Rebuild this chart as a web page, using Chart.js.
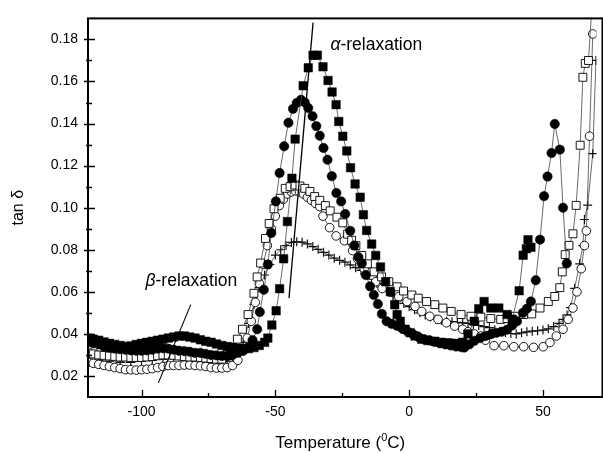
<!DOCTYPE html>
<html>
<head>
<meta charset="utf-8">
<script src="https://cdn.jsdelivr.net/npm/chart.js@4.4.0/dist/chart.umd.min.js"></script>
<style>
html,body{margin:0;padding:0;background:#fff;}
</style>
</head>
<body>
<canvas id="tanChart" width="603" height="453"></canvas>
<script>
// filled squares
var sqFilledT = [-120,-118,-116,-114,-112,-110,-108,-106,-104,-102,-100,-98,-96,-94,-92,-90,-88,-86,-84,-82,-80,-78,-76,-74,-72,-70,-68,-66,-64,-62,-60,-58,-56,-54,
  -52.8,-51.3,-49.7,-48.4,-46.9,-45.5,-43.8,-42.6,-39.6,-37.7,-35.9,-34.3,-32.2,-30.3,-28.8,-27.3,-26.3,-24.8,-23.3,-21.9,-20.2,-18.3,-17.1,-15.9,-14,-12.5,-10.7,-8.8,
  -7,-5.4,-4.5,-3.3,-1.5,0.4,2.2,4.7,7,9.6,12,14.5,17.6,20,22,24.3,26,28,30.5,33.5,36.6,38.5,41.1,42.6,43.8,44.4,45.5];
var sqFilledV = [0.038,0.0375,0.037,0.0362,0.0355,0.035,0.0345,0.034,0.0343,0.035,0.0355,0.036,0.0365,0.037,0.0375,0.038,0.0385,0.039,0.039,0.0385,
  0.038,0.0372,0.0365,0.036,0.0352,0.0345,0.034,0.0335,0.0332,0.033,0.033,0.0335,0.0345,0.036,
  0.038,0.0442,0.051,0.0615,0.0757,0.0934,0.114,0.1326,0.158,0.1665,0.1725,0.1725,0.167,0.1605,0.155,0.149,0.141,0.134,0.127,0.119,0.1113,0.105,0.0967,0.0892,0.0827,0.0773,0.0718,0.0648,
  0.060,0.0539,0.0492,0.046,0.0422,0.0406,0.039,0.0375,0.0368,0.0365,0.036,0.0358,0.0355,0.036,0.040,0.046,0.052,0.0554,0.0523,0.0523,0.0492,0.047,0.0605,0.0774,0.0805,0.0848,0.0812];

// filled circles
var ciFilledT = [-120,-118,-116,-114,-112,-110,-108,-106,-104,-102,-100,-98,-96,-94,-92,-90,-88,-86,-84,-82,-80,-78,-76,-74,-72,-70,-68,-66,-64,-62,-60,
  -58.5,-56.8,-55.8,-54.3,-52.8,-51.5,-49.8,-48.4,-46.7,-45.1,-43.4,-42,-40.4,-39,-37.7,-36.1,-34.7,-33.4,-32,-30.5,
  -28.9,-27.2,-25.4,-23.9,-22,-20.5,-19,-17.7,-16.2,-14.6,-13.2,-11.7,-10.2,-8.4,-6.5,-4.5,-2.5,-0.5,1.5,3.5,
  5.5,7.5,9.5,11.5,13.5,15.5,17.5,19.5,20.6,22.5,24.3,26.5,28.5,30.5,32.5,34.5,36.6,38.5,40.3,42.5,
  44,45.5,47.3,48.9,50.4,51.7,53.2,54.4,56.3,57.5,58.9];
var ciFilledV = [0.036,0.0355,0.035,0.034,0.0335,0.033,0.0328,0.0325,0.0322,0.032,0.032,0.0322,0.0325,0.033,0.0332,0.033,0.0325,0.032,0.0318,0.0315,
  0.031,0.031,0.0305,0.030,0.0298,0.0295,0.0295,0.030,0.031,0.032,0.0335,
  0.037,0.0422,0.0504,0.061,0.073,0.088,0.103,0.1165,0.1292,0.1404,0.147,0.1498,0.1513,0.150,0.1474,0.1435,0.1388,0.1342,0.1284,0.1228,
  0.115,0.107,0.103,0.097,0.089,0.082,0.0765,0.0735,0.068,0.0626,0.0585,0.0542,0.0495,0.046,0.0448,0.0438,0.0425,0.041,0.0398,0.0385,
  0.0375,0.037,0.0362,0.0355,0.035,0.0345,0.034,0.0337,0.0335,0.035,0.0367,0.038,0.039,0.0398,0.0405,0.041,0.042,0.044,0.046,0.050,
  0.052,0.0554,0.0655,0.0848,0.1055,0.1148,0.126,0.1398,0.1276,0.100,0.0735];

// open squares
var sqOpenT = [-120,-118,-116,-114,-112,-110,-108,-106,-104,-102,-100,-98,-96,-94,-92,-90,-88,-86,-84,-82,-80,-78,-76,-74,-72,-70,-68,
  -66.6,-64.2,-62.3,-60.2,-58,-56.8,-55.5,-53.7,-52.3,-50.5,-48.2,-46.3,-44.5,-42.7,-40.8,-39,-37.1,-35.3,-33.4,-31.3,
  -29.5,-27,-24.8,-23,-21.5,-19.9,-17.7,-15.6,-13.1,-10.3,-7.6,-4.5,-2.1,1,3.4,6.5,9.6,12.6,15.7,19.4,
  23.1,26.8,30.5,34.2,36.6,39.7,42.8,45.8,48.9,52,54.4,56.3,57.2,58.3,59.7,61.2,62.4,63.9,64.9,65.8,67,68.5];
var sqOpenV = [0.031,0.0305,0.030,0.0298,0.0295,0.0293,0.029,0.029,0.0288,0.0288,0.0288,0.029,0.0292,0.0296,0.030,0.030,0.0298,0.0295,0.0292,0.029,
  0.029,0.0288,0.0285,0.0283,0.028,0.028,0.030,
  0.0336,0.0375,0.0422,0.0492,0.0593,0.0671,0.0737,0.0854,0.0925,0.0995,0.1045,0.1092,0.110,0.1108,0.1103,0.1092,0.1077,0.1053,0.1035,0.101,
  0.0985,0.0955,0.0928,0.0874,0.0845,0.082,0.0773,0.0733,0.0695,0.0671,0.0648,0.0624,0.0604,0.0585,0.057,0.0554,0.0539,0.0523,0.0507,0.0492,
  0.0484,0.048,0.0473,0.0469,0.0473,0.0484,0.0492,0.0495,0.0523,0.0554,0.0578,0.062,0.0695,0.0777,0.0821,0.0876,0.1011,0.1297,0.162,0.1686,0.170,0.2];

// open circles
var ciOpenT = [-120,-118,-116,-114,-112,-110,-108,-106,-104,-102,-100,-98,-96,-94,-92,-90,-88,-86,-84,-82,-80,-78,-76,-74,-72,-70,-68,-66,
  -64,-62,-60.5,-59,-57.5,-56,-54.5,-53,-51.5,-50,-48.5,-47,-45.5,-44,-42.5,-41,-39.5,-38,-36.5,-35,
  -33.4,-32.2,-29.7,-27.3,-24.2,-21.1,-19.3,-16.8,-13.8,-12.5,-10.1,-7,-3.9,-0.8,2.2,4.7,7.7,10.8,13.9,17,
  20,22,24.3,26.8,28.5,31.7,35.4,39.1,42.8,46.5,50.1,52.6,55,57.5,59.4,61.2,62.7,64.3,65.5,66.2,67.4,68.6];
var ciOpenV = [0.0265,0.026,0.0255,0.025,0.0245,0.024,0.0235,0.023,0.023,0.0228,0.023,0.0232,0.0235,0.024,0.0245,0.025,0.025,0.025,0.0252,0.0252,
  0.025,0.0248,0.0245,0.024,0.0238,0.0238,0.024,0.025,
  0.0275,0.032,0.038,0.046,0.055,0.064,0.073,0.082,0.090,0.096,0.101,0.104,0.1065,0.1075,0.108,0.1075,0.1065,0.105,0.1035,0.102,
  0.1005,0.096,0.0905,0.0866,0.0843,0.0796,0.0757,0.071,0.0679,0.0648,0.0616,0.060,0.0577,0.0554,0.0531,0.0507,0.0484,0.0469,0.0453,0.0437,
  0.0422,0.041,0.040,0.039,0.037,0.0344,0.0344,0.0339,0.0339,0.0336,0.0339,0.0359,0.039,0.0422,0.0469,0.0523,0.060,0.071,0.082,0.089,0.134,0.1826];

// crosses
var crossT = [-120,-116,-112,-108,-104,-100,-96,-92,-88,-84,-80,-76,-72,-68,-66,
  -64,-62,-60,-58,-56,-54,-52,-50,-48,-46,-44,-42,-40,-38,-36,-34,-32,-30,-28,-26,-24,-22,-20,-18,-16,-14,-12,-10,-8,-6,
  -4,-2,0,2,4,6,8,10,12,14,16,18,20,22,24,26,28,30,32,34,36,38,40,42,44,46,48,50,52,54,
  56,57.5,59,60.3,61.8,63.7,64.9,65.5,66.7,68.6,69.8];
var crossV = [0.028,0.0275,0.027,0.0265,0.0265,0.027,0.0275,0.028,0.0285,0.028,0.0275,0.027,0.0265,0.027,0.028,
  0.030,0.036,0.045,0.054,0.062,0.068,0.073,0.0775,0.080,0.082,0.0835,0.0838,0.0836,0.0828,0.0815,0.0802,0.0788,0.0775,0.076,0.075,
  0.0741,0.0728,0.0715,0.0702,0.068,0.066,0.064,0.062,0.0605,0.058,0.056,0.0545,0.053,0.0515,0.050,0.049,0.048,0.047,0.0465,0.046,
  0.0458,0.0455,0.0452,0.045,0.0445,0.044,0.0435,0.043,0.042,0.0412,0.0406,0.0402,0.040,0.0405,0.041,0.0413,0.0415,0.0418,0.0424,0.0435,
  0.045,0.0469,0.049,0.0525,0.0616,0.0733,0.082,0.0944,0.1012,0.1257,0.17];

// guide lines for the relaxations
var alphaLineT = [-44.9, -35.9];
var alphaLineV = [0.057, 0.188];
var betaLineT = [-93.7, -81.6];
var betaLineV = [0.0167, 0.0539];

// ticks
var xTicks = [-100, -50, 0, 50];
var xMinor = [-75, -25, 25];
var yTicks = [0.02, 0.04, 0.06, 0.08, 0.10, 0.12, 0.14, 0.16, 0.18];
var yMinor = [0.03, 0.05, 0.07, 0.09, 0.11, 0.13, 0.15, 0.17];

var FONT = '"Liberation Sans", Arial, Helvetica, sans-serif';
Chart.defaults.font.family = FONT;
Chart.defaults.color = '#000';

function pts(ts, vs) {
    return ts.map(function (t, i) { return {x: t, y: vs[i]}; });
}

function series(ts, vs, style, r, fill, edge, bw) {
    return {
        data: pts(ts, vs),
        showLine: true,
        borderColor: '#444',
        borderWidth: 0.8,
        pointStyle: style,
        pointRadius: r,
        pointBackgroundColor: fill,
        pointBorderColor: edge,
        pointBorderWidth: bw,
        clip: 0
    };
}

var decor = {
    id: 'decor',
    afterDraw: function (chart) {
        var c = chart.ctx, a = chart.chartArea, xs = chart.scales.x, ys = chart.scales.y;
        c.save();
        c.strokeStyle = '#000';
        c.lineWidth = 2;
        c.strokeRect(a.left, a.top, a.right - a.left + 6, a.bottom - a.top);

        c.lineWidth = 1.3;
        c.beginPath();
        xTicks.forEach(function (v) {
            var p = Math.round(xs.getPixelForValue(v)) + 0.5;
            c.moveTo(p, a.bottom); c.lineTo(p, a.bottom - 7);
        });
        xMinor.forEach(function (v) {
            var p = Math.round(xs.getPixelForValue(v)) + 0.5;
            c.moveTo(p, a.bottom); c.lineTo(p, a.bottom - 4);
        });
        yTicks.forEach(function (v) {
            var p = Math.round(ys.getPixelForValue(v)) + 0.5;
            c.moveTo(a.left - 4, p); c.lineTo(a.left + 7, p);
        });
        yMinor.forEach(function (v) {
            var p = Math.round(ys.getPixelForValue(v)) + 0.5;
            c.moveTo(a.left - 2, p); c.lineTo(a.left + 4, p);
        });
        c.stroke();

        // relaxation labels
        c.fillStyle = '#000';
        c.textBaseline = 'alphabetic';
        c.textAlign = 'left';
        var ax = xs.getPixelForValue(-29.4), ay = ys.getPixelForValue(0.1752);
        c.font = 'italic 17.5px ' + FONT;
        c.fillText('\u03B1', ax, ay);
        var aw = c.measureText('\u03B1').width;
        c.font = '17.5px ' + FONT;
        c.fillText('-relaxation', ax + aw, ay);

        var bx = xs.getPixelForValue(-98.5), by = ys.getPixelForValue(0.0629);
        c.font = 'italic 17.5px ' + FONT;
        c.fillText('\u03B2', bx, by);
        var bw = c.measureText('\u03B2').width;
        c.font = '17.5px ' + FONT;
        c.fillText('-relaxation', bx + bw, by);

        // x axis title with superscript degree
        var t1 = 'Temperature (', t2 = '0', t3 = 'C)';
        c.font = '17px ' + FONT;
        var w1 = c.measureText(t1).width, w3 = c.measureText(t3).width;
        c.font = '11px ' + FONT;
        var w2 = c.measureText(t2).width;
        var x0 = (a.left + a.right) / 2 - 2 - (w1 + w2 + w3) / 2, yb = 448;
        c.font = '17px ' + FONT;
        c.fillText(t1, x0, yb);
        c.font = '11px ' + FONT;
        c.fillText(t2, x0 + w1, yb - 7);
        c.font = '17px ' + FONT;
        c.fillText(t3, x0 + w1 + w2, yb);
        c.restore();
    }
};

var ctx = document.getElementById('tanChart').getContext('2d');
var tanChart = new Chart(ctx, {
    type: 'scatter',
    data: {
        datasets: [
            {data: pts(alphaLineT, alphaLineV), showLine: true, pointRadius: 0, borderColor: '#000', borderWidth: 1.3, clip: 0},
            {data: pts(betaLineT, betaLineV), showLine: true, pointRadius: 0, borderColor: '#000', borderWidth: 1.1, clip: 0},
            series(sqFilledT, sqFilledV, 'rect', 6, '#000', '#000', 0.5),
            series(ciFilledT, ciFilledV, 'circle', 4.7, '#000', '#000', 0.5),
            series(sqOpenT, sqOpenV, 'rect', 5.6, '#fff', '#000', 0.9),
            series(ciOpenT, ciOpenV, 'circle', 4.3, '#fff', '#000', 0.9),
            series(crossT, crossV, 'cross', 4.5, '#111', '#111', 1.2)
        ]
    },
    options: {
        responsive: false,
        animation: false,
        layout: {padding: {left: 0, right: 0, top: 13, bottom: 0}},
        plugins: {legend: {display: false}, tooltip: {enabled: false}},
        scales: {
            x: {
                type: 'linear',
                min: -120,
                max: 70,
                afterBuildTicks: function (s) { s.ticks = xTicks.map(function (v) { return {value: v}; }); },
                afterFit: function (s) { s.height = 56; },
                grid: {display: false, drawTicks: false},
                border: {display: false},
                ticks: {padding: 7, font: {size: 14}, color: '#000', maxRotation: 0,
                    callback: function (v) { return String(v); }}
            },
            y: {
                type: 'linear',
                min: 0.01,
                max: 0.19,
                afterBuildTicks: function (s) { s.ticks = yTicks.map(function (v) { return {value: v}; }); },
                afterFit: function (s) { s.width = 88; },
                grid: {display: false, drawTicks: false},
                border: {display: false},
                ticks: {padding: 10, font: {size: 14}, color: '#000',
                    callback: function (v) { return v.toFixed(2); }},
                title: {display: true, text: 'tan \u03B4', font: {size: 16}, color: '#000', padding: {top: 9, bottom: 0}}
            }
        }
    },
    plugins: [decor]
});
</script>
</body>
</html>
